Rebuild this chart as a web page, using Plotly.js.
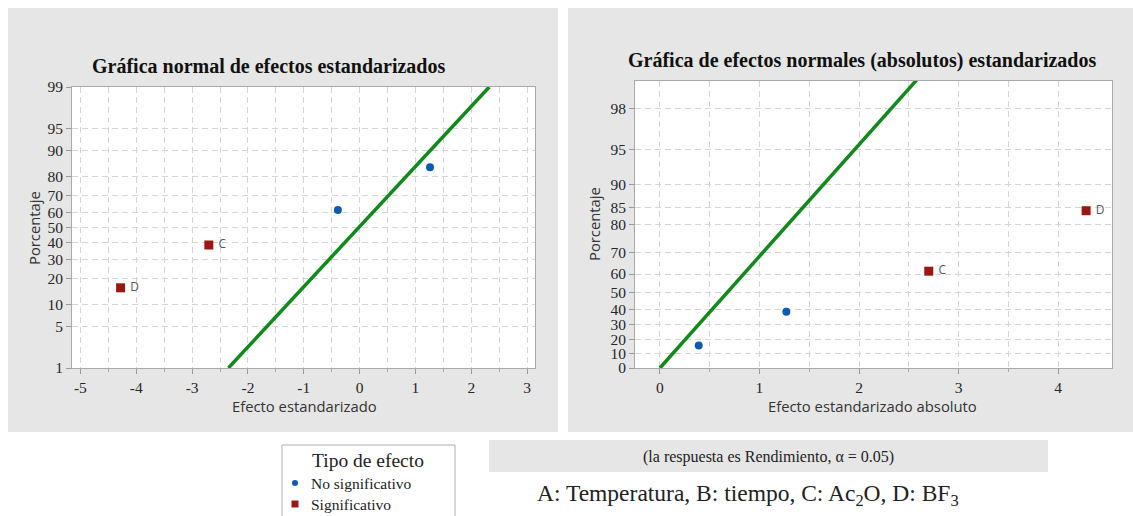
<!DOCTYPE html>
<html><head><meta charset="utf-8">
<script src="https://cdn.plot.ly/plotly-3.0.1.min.js"></script>
<style>html,body{margin:0;padding:0;background:#fff}#chart{width:1133px;height:516px}</style>
</head><body><div id="chart"></div>
<script>
// ---- data ----
const effectLabels = ['D', 'C', 'A', 'B'];
const stdEffects = [-4.28, -2.70, -0.39, 1.26];
const normalPct = [15.9, 38.6, 61.4, 84.1];
const significant = [true, true, false, false];

const absLabels = ['A', 'B', 'C', 'D'];
const absEffects = [0.39, 1.27, 2.70, 4.28];
const halfPct = [15.9, 38.6, 61.4, 84.1];
const absSignificant = [false, false, true, true];

const normLineX = [-2.35, 2.32];
const normLinePct = [1, 99];
const halfLineX = [0, 2.6];
const halfLinePct = [0, 99.07];

const normTickPct = [1, 5, 10, 20, 30, 40, 50, 60, 70, 80, 90, 95, 99];
const halfTickPct = [0, 10, 20, 30, 40, 50, 60, 70, 80, 85, 90, 95, 98];
const normXTicks = [-5, -4, -3, -2, -1, 0, 1, 2, 3];
const normXMinor = [-4.5, -3.5, -2.5, -1.5, -0.5, 0.5, 1.5, 2.5];
const halfXTicks = [0, 1, 2, 3, 4];
const halfXMinor = [0.5, 1.5, 2.5, 3.5];

const legendTitle = 'Tipo de efecto';
const legendNames = ['No significativo', 'Significativo'];

// ---- probability scale helpers ----
function invNorm(p) {
  const a = [-3.969683028665376e+01, 2.209460984245205e+02, -2.759285104469687e+02, 1.383577518672690e+02, -3.066479806614716e+01, 2.506628277459239e+00];
  const b = [-5.447609879822406e+01, 1.615858368580409e+02, -1.556989798598866e+02, 6.680131188771972e+01, -1.328068155288572e+01];
  const c = [-7.784894002430293e-03, -3.223964580411365e-01, -2.400758277161838e+00, -2.549732539343734e+00, 4.374664141464968e+00, 2.938163982698783e+00];
  const d = [7.784695709041462e-03, 3.224671290700398e-01, 2.445134137142996e+00, 3.754408661907416e+00];
  const pl = 0.02425, ph = 1 - pl;
  if (p <= 0) return -Infinity;
  if (p >= 1) return Infinity;
  let q, r;
  if (p < pl) { q = Math.sqrt(-2 * Math.log(p)); return (((((c[0]*q+c[1])*q+c[2])*q+c[3])*q+c[4])*q+c[5]) / ((((d[0]*q+d[1])*q+d[2])*q+d[3])*q+1); }
  if (p > ph) { q = Math.sqrt(-2 * Math.log(1 - p)); return -(((((c[0]*q+c[1])*q+c[2])*q+c[3])*q+c[4])*q+c[5]) / ((((d[0]*q+d[1])*q+d[2])*q+d[3])*q+1); }
  q = p - 0.5; r = q * q;
  return (((((a[0]*r+a[1])*r+a[2])*r+a[3])*r+a[4])*r+a[5])*q / (((((b[0]*r+b[1])*r+b[2])*r+b[3])*r+b[4])*r+1);
}
const zN = p => invNorm(p / 100);
const zH = p => (p <= 0 ? 0 : invNorm(0.5 + p / 200));

const W = 1133, H = 516;
const px = x => x / W;
const py = y => 1 - y / H;

const pick = (arr, flags, want) => arr.filter((_, i) => flags[i] === want);

const BLUE = '#0a5cb0', RED = '#9c1515', GREEN = '#108a1a';
const SERIF = 'Liberation Serif';
const SANS = 'Open Sans';
const labelFont = { family: SANS, size: 12, color: '#555' };

const traces = [
  { x: normLineX, y: normLinePct.map(zN), xaxis: 'x', yaxis: 'y', mode: 'lines',
    line: { color: GREEN, width: 3.5 }, hoverinfo: 'skip' },
  { x: halfLineX, y: halfLinePct.map(zH), xaxis: 'x2', yaxis: 'y2', mode: 'lines',
    line: { color: GREEN, width: 3.5 }, hoverinfo: 'skip' },
  { name: legendNames[0],
    x: pick(stdEffects, significant, false), y: pick(normalPct, significant, false).map(zN),
    xaxis: 'x', yaxis: 'y', mode: 'markers',
    marker: { color: BLUE, symbol: 'circle', size: 8 } },
  { name: legendNames[1],
    x: pick(stdEffects, significant, true), y: pick(normalPct, significant, true).map(zN),
    text: pick(effectLabels, significant, true).map(t => ' ' + t),
    xaxis: 'x', yaxis: 'y', mode: 'markers+text', textposition: 'middle right', textfont: labelFont,
    marker: { color: RED, symbol: 'square', size: 9 } },
  { name: legendNames[0],
    x: pick(absEffects, absSignificant, false), y: pick(halfPct, absSignificant, false).map(zH),
    xaxis: 'x2', yaxis: 'y2', mode: 'markers',
    marker: { color: BLUE, symbol: 'circle', size: 8 } },
  { name: legendNames[1],
    x: pick(absEffects, absSignificant, true), y: pick(halfPct, absSignificant, true).map(zH),
    text: pick(absLabels, absSignificant, true).map(t => ' ' + t),
    xaxis: 'x2', yaxis: 'y2', mode: 'markers+text', textposition: 'middle right', textfont: labelFont,
    marker: { color: RED, symbol: 'square', size: 9 } }
];

const GRID = '#d6d6d6', DASH = '6px,4px', BORDER = '#a9a9a9';

function xAxis(domain, range, ticks, minor, anchor) {
  return {
    domain, range, anchor, tickmode: 'array', tickvals: ticks, ticktext: ticks.map(String),
    showgrid: true, gridcolor: GRID, griddash: DASH, gridwidth: 1,
    ticks: 'outside', ticklen: 5, tickcolor: '#999',
    tickfont: { family: SERIF, size: 15.5, color: '#262626' },
    showline: true, mirror: true, linecolor: BORDER, linewidth: 1, zeroline: false,
    minor: { tickmode: 'array', tickvals: minor, ticks: 'outside', ticklen: 3, tickcolor: '#aaa',
             showgrid: true, gridcolor: GRID, griddash: DASH, gridwidth: 1 },
    fixedrange: true
  };
}
function yAxis(domain, range, pcts, fz, anchor) {
  return {
    domain, range, anchor, tickmode: 'array', tickvals: pcts.map(fz), ticktext: pcts.map(String),
    showgrid: true, gridcolor: GRID, griddash: DASH, gridwidth: 1,
    ticks: 'outside', ticklen: 5, tickcolor: '#999',
    tickfont: { family: SERIF, size: 15.5, color: '#262626' },
    showline: true, mirror: true, linecolor: BORDER, linewidth: 1, zeroline: false,
    fixedrange: true
  };
}

const ann = (x, y, text, font, extra) => Object.assign({
  xref: 'paper', yref: 'paper', x: px(x), y: py(y), text, showarrow: false,
  xanchor: 'center', yanchor: 'middle', font }, extra || {});
const rect = (x0, y0, x1, y1, fill, line) => ({
  type: 'rect', xref: 'paper', yref: 'paper', x0: px(x0), x1: px(x1), y0: py(y1), y1: py(y0),
  fillcolor: fill, line: line || { width: 0 }, layer: 'below' });

const axisTitleFont = { family: SANS, size: 14.8, color: '#333' };
const titleFont = { family: SERIF, size: 20, color: '#111' };

const layout = {
  width: W, height: H,
  font: { family: SERIF, size: 15.5, color: '#262626' },
  margin: { l: 0, r: 0, t: 0, b: 0, pad: 0, autoexpand: false },
  paper_bgcolor: '#ffffff', plot_bgcolor: '#ffffff',
  showlegend: false,
  xaxis: xAxis([px(72), px(535)], [-5.15, 3.14], normXTicks, normXMinor, 'y'),
  yaxis: yAxis([py(368), py(87)], [zN(1), zN(99)], normTickPct, zN, 'x'),
  xaxis2: xAxis([px(635), px(1112)], [-0.25, 4.54], halfXTicks, halfXMinor, 'y2'),
  yaxis2: yAxis([py(368), py(81)], [0, 2.57], halfTickPct, zH, 'x2'),
  shapes: [
    rect(8, 8, 558, 432, '#e6e6e6'),
    rect(568, 8, 1133, 432, '#e6e6e6'),
    rect(72, 87, 535, 368, '#ffffff'),
    rect(635, 81, 1112, 368, '#ffffff'),
    rect(489, 440, 1048, 472, '#e6e6e6'),
    // legend box and keys
    rect(282, 445, 455, 530, '#ffffff', { color: '#b0b0b0', width: 1 }),
    { type: 'circle', xref: 'paper', yref: 'paper', x0: px(292), x1: px(298), y0: py(486), y1: py(480),
      fillcolor: BLUE, line: { width: 0 } },
    { type: 'rect', xref: 'paper', yref: 'paper', x0: px(291.5), x1: px(298.5), y0: py(507.5), y1: py(500.5),
      fillcolor: RED, line: { width: 0 } }
  ],
  annotations: [
    ann(268, 66, '<b>Gráfica normal de efectos estandarizados</b>', titleFont),
    ann(862, 61, '<b>Gráfica de efectos normales (absolutos) estandarizados</b>', titleFont),
    ann(304, 406, 'Efecto estandarizado', axisTitleFont),
    ann(872, 406, 'Efecto estandarizado absoluto', axisTitleFont),
    ann(34, 228, 'Porcentaje', axisTitleFont, { textangle: -90 }),
    ann(594, 224, 'Porcentaje', axisTitleFont, { textangle: -90 }),
    ann(768, 457, '(la respuesta es Rendimiento, α = 0.05)', { family: SERIF, size: 16, color: '#222' }),
    ann(748, 495, 'A: Temperatura, B: tiempo, C: Ac<sub>2</sub>O, D: BF<sub>3</sub>', { family: SERIF, size: 23.5, color: '#222' }),
    ann(368, 460, legendTitle, { family: SERIF, size: 19.5, color: '#222' }),
    ann(309, 483, legendNames[0], { family: SERIF, size: 15.5, color: '#222' }, { xanchor: 'left' }),
    ann(309, 504, legendNames[1], { family: SERIF, size: 15.5, color: '#222' }, { xanchor: 'left' })
  ]
};

Plotly.newPlot('chart', traces, layout, { displayModeBar: false, staticPlot: true });
</script>
</body></html>
